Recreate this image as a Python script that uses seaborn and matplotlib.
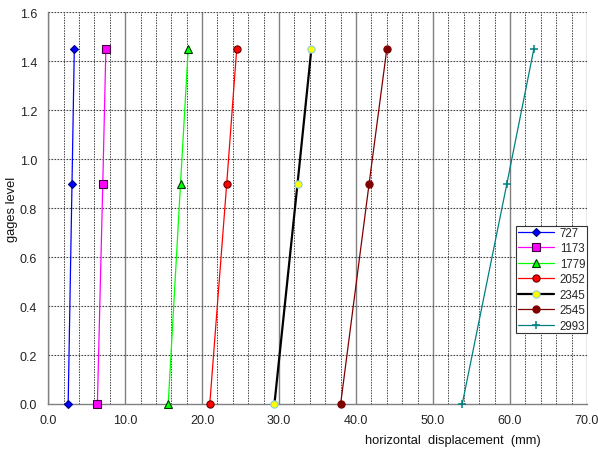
import matplotlib
matplotlib.use("Agg")
import matplotlib.pyplot as plt
import seaborn as sns
import pandas as pd

# Gauge levels (m) and horizontal displacement readings (mm) for each survey
levels = [0.0, 0.9, 1.45]
series_names = ["727", "1173", "1779", "2052", "2345", "2545", "2993"]
disp_727 = [2.6, 3.1, 3.4]
disp_1173 = [6.4, 7.1, 7.5]
disp_1779 = [15.6, 17.2, 18.2]
disp_2052 = [21.0, 23.2, 24.5]
disp_2345 = [29.4, 32.4, 34.2]
disp_2545 = [38.0, 41.7, 44.0]
disp_2993 = [53.8, 59.6, 63.1]
displacements = [disp_727, disp_1173, disp_1779, disp_2052, disp_2345, disp_2545, disp_2993]

styles = {
    "727":  dict(color="#0000FF", marker="D", mfc="#0000FF", mec="#000080", ms=4.3, lw=0.9),
    "1173": dict(color="#FF00FF", marker="s", mfc="#FF00FF", mec="#400040", ms=5.2, lw=0.9),
    "1779": dict(color="#00FF00", marker="^", mfc="#00FF00", mec="#003300", ms=5.5, lw=0.9),
    "2052": dict(color="#FF0000", marker="o", mfc="#FF0000", mec="#660000", ms=5.2, lw=0.9),
    "2345": dict(color="#000000", marker="o", mfc="#FFFF00", mec="#88CCDD", ms=5.2, lw=1.6),
    "2545": dict(color="#800000", marker="o", mfc="#800000", mec="#800000", ms=5.2, lw=0.9),
    "2993": dict(color="#008080", marker="+", mfc="#008080", mec="#008080", ms=6.0, lw=0.9, mew=1.1),
}

frames = []
for name, vals in zip(series_names, displacements):
    frames.append(pd.DataFrame({"disp": vals, "level": levels, "series": name}))
df = pd.concat(frames, ignore_index=True)

sns.set_style("white")
plt.rcParams["font.family"] = ["Liberation Sans", "DejaVu Sans"]

fig = plt.figure(figsize=(5.98, 4.52), dpi=100)
ax = fig.add_axes([0.0805, 0.104, 0.901, 0.8665])

for name in series_names:
    st = styles[name]
    sub = df[df["series"] == name]
    sns.lineplot(data=sub, x="disp", y="level", ax=ax, sort=False,
                 color=st["color"], linewidth=st["lw"], marker=st["marker"],
                 markersize=st["ms"], markerfacecolor=st["mfc"],
                 markeredgecolor=st["mec"], markeredgewidth=st.get("mew", 0.8),
                 label=name, zorder=5, clip_on=False)

ytick_vals = [0, 0.2, 0.4, 0.6, 0.8, 1.0, 1.2, 1.4, 1.6]
ax.set_xlim(0, 70)
ax.set_ylim(0, 1.6)
ax.set_xticks(range(0, 71, 10))
ax.set_xticks(range(0, 71, 2), minor=True)
ax.set_yticks(ytick_vals)
ax.set_xticklabels([f"{v:.1f}" for v in range(0, 71, 10)])
ax.set_yticklabels([f"{v:.1f}" for v in ytick_vals])

# Grid: solid grey at major x, dotted at minor x and at y ticks
ax.grid(False)
for v in range(0, 71, 2):
    if v % 10 == 0:
        ax.axvline(v, color="#808080", lw=1.0, zorder=1)
    else:
        ax.axvline(v, color="#444444", lw=0.7, ls=(0, (1.5, 1.2)), zorder=1)
for v in ytick_vals[1:]:
    ax.axhline(v, color="#444444", lw=0.8, ls=(0, (1.5, 1.2)), zorder=1)

for side in ["top", "right"]:
    ax.spines[side].set_visible(False)
for side in ["left", "bottom"]:
    ax.spines[side].set_color("#808080")
    ax.spines[side].set_linewidth(1.0)

ax.tick_params(axis="both", which="major", direction="out", length=4,
               width=1.0, color="#808080", labelsize=9, labelcolor="#222222")
ax.tick_params(axis="x", which="minor", length=0)
ax.tick_params(axis="x", pad=3)
ax.tick_params(axis="y", pad=4)

ax.set_xlabel("horizontal  displacement  (mm)", fontsize=9.3, color="#111111")
ax.xaxis.set_label_coords(0.751, -0.077)
ax.set_ylabel("gages level", fontsize=9.3, color="#111111")
ax.yaxis.set_label_coords(-0.056, 0.5)

leg = ax.legend(loc="lower right", bbox_to_anchor=(1.0, 0.181), fontsize=8.3,
                frameon=True, fancybox=False, edgecolor="#333333",
                framealpha=1.0, handlelength=3.2, labelspacing=0.3,
                borderpad=0.12, handletextpad=0.45, borderaxespad=0.0)
leg.get_frame().set_linewidth(0.8)
leg.set_zorder(10)

fig.savefig("out.png", dpi=100)
